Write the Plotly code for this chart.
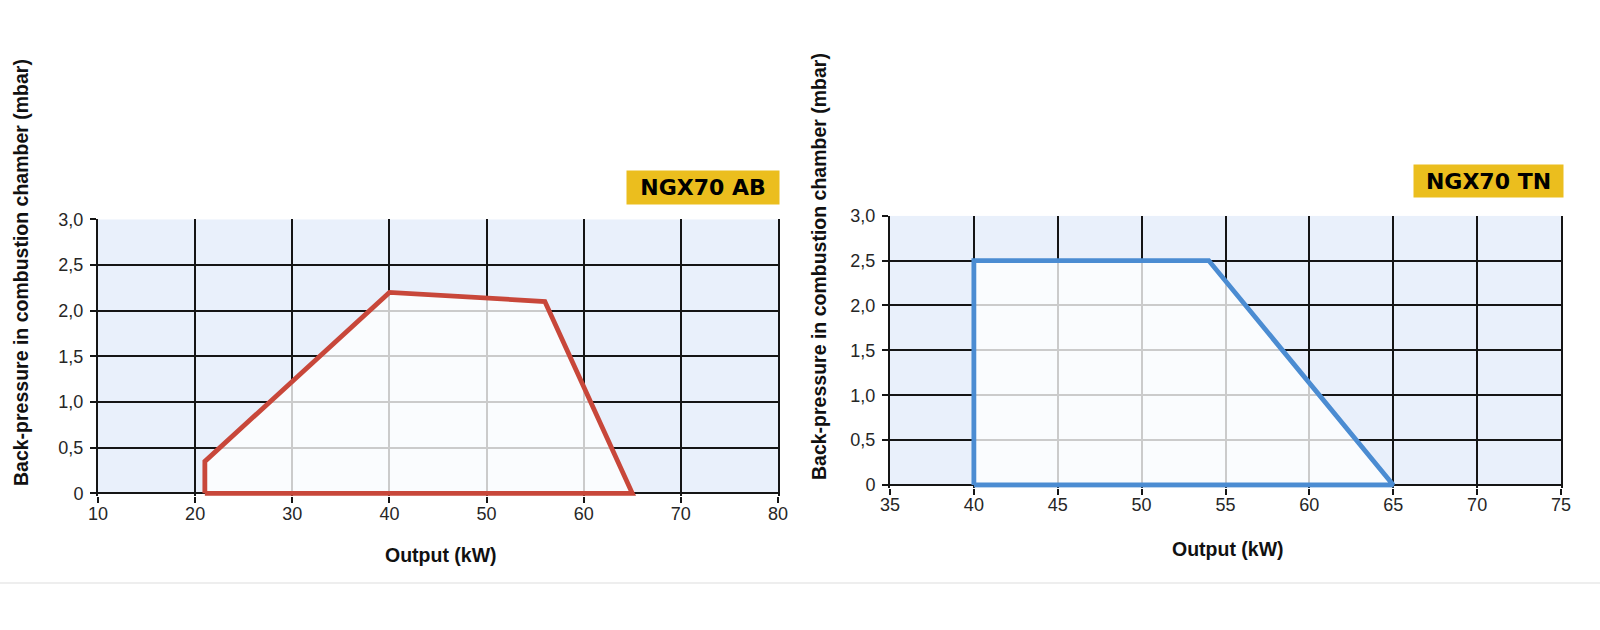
import plotly.graph_objects as go

# ---- data ----
ab_output = [21, 21, 40, 56, 65, 21]
ab_pressure = [0, 0.35, 2.2, 2.1, 0, 0]
tn_output = [40, 40, 54, 65, 40]
tn_pressure = [0, 2.5, 2.5, 0, 0]

ab_xticks = [10, 20, 30, 40, 50, 60, 70, 80]
tn_xticks = [35, 40, 45, 50, 55, 60, 65, 70, 75]
y_tickvals = [0, 0.5, 1.0, 1.5, 2.0, 2.5, 3.0]
y_ticktext = ["0", "0,5", "1,0", "1,5", "2,0", "2,5", "3,0"]

ab_label = "NGX70 AB"
tn_label = "NGX70 TN"
x_title = "Output (kW)"
y_title = "Back-pressure in combustion chamber (mbar)"

FONT = "Liberation Sans, Arial, sans-serif"
BADGE_FONT = "DejaVu Sans, Liberation Sans, sans-serif"
BG_BLUE = "rgb(233,240,251)"
GRID = "#151515"
RED = "#C8473A"
BLUE = "#4B8CD2"
BADGE = "#EBBE1E"

fig = go.Figure()

fig.add_trace(go.Scatter(
    x=ab_output, y=ab_pressure, mode="lines", fill="toself",
    fillcolor="rgba(255,255,255,0.78)",
    line=dict(color=RED, width=4.8), xaxis="x", yaxis="y",
    showlegend=False, hoverinfo="skip"))
fig.add_trace(go.Scatter(
    x=tn_output, y=tn_pressure, mode="lines", fill="toself",
    fillcolor="rgba(255,255,255,0.78)",
    line=dict(color=BLUE, width=4.8), xaxis="x2", yaxis="y2",
    showlegend=False, hoverinfo="skip"))

ymin = -0.03
tickfont = dict(family=FONT, size=18, color="#262626")
common_x = dict(showgrid=True, gridcolor=GRID, gridwidth=2, zeroline=False,
                ticks="outside", ticklen=6, tickwidth=2, tickcolor=GRID,
                showline=False, layer="below traces", automargin=False,
                ticklabelstandoff=-5, tickfont=tickfont)
common_y = dict(showgrid=True, gridcolor=GRID, gridwidth=2, zeroline=False,
                ticks="outside", ticklen=6, tickwidth=2, tickcolor=GRID,
                showline=True, mirror=True, linecolor=GRID, linewidth=2,
                layer="below traces", range=[ymin, 3], automargin=False,
                tickvals=y_tickvals, ticktext=y_ticktext,
                ticklabelstandoff=3, tickfont=tickfont)

fig.update_layout(
    width=1600, height=630,
    margin=dict(l=0, r=0, t=0, b=0, autoexpand=False),
    paper_bgcolor="white", plot_bgcolor="white",
    xaxis=dict(domain=[98/1600, 778/1600], range=[min(ab_xticks), max(ab_xticks)],
               tickvals=ab_xticks, anchor="y", **common_x),
    yaxis=dict(domain=[1-496.1/630, 1-219.3/630], anchor="x", **common_y),
    xaxis2=dict(domain=[890/1600, 1561/1600], range=[min(tn_xticks), max(tn_xticks)],
                tickvals=tn_xticks, anchor="y2", **common_x),
    yaxis2=dict(domain=[1-487.7/630, 1-215.7/630], anchor="x2", **common_y),
)

# blue backgrounds of the grids
fig.add_shape(type="rect", xref="x", yref="y", x0=min(ab_xticks), x1=max(ab_xticks),
              y0=0, y1=max(y_tickvals), fillcolor=BG_BLUE, line_width=0, layer="below")
fig.add_shape(type="rect", xref="x2", yref="y2", x0=min(tn_xticks), x1=max(tn_xticks),
              y0=0, y1=max(y_tickvals), fillcolor=BG_BLUE, line_width=0, layer="below")

# faint separator line at bottom
fig.add_shape(type="line", xref="paper", yref="paper", x0=0, x1=1,
              y0=1-583/630, y1=1-583/630, line=dict(color="#eeeeee", width=2))

ann_font_title = dict(family=FONT, size=19.5, color="#111")
annotations = [
    dict(text=f"<b>{x_title}</b>", x=441/1600, y=1-555/630, xref="paper", yref="paper",
         showarrow=False, font=ann_font_title, xanchor="center", yanchor="middle"),
    dict(text=f"<b>{x_title}</b>", x=1228/1600, y=1-549/630, xref="paper", yref="paper",
         showarrow=False, font=ann_font_title, xanchor="center", yanchor="middle"),
    dict(text=f"<b>{y_title}</b>", x=21/1600, y=1-273/630, xref="paper", yref="paper",
         showarrow=False, font=ann_font_title, textangle=-90, xanchor="center", yanchor="middle"),
    dict(text=f"<b>{y_title}</b>", x=819/1600, y=1-267/630, xref="paper", yref="paper",
         showarrow=False, font=ann_font_title, textangle=-90, xanchor="center", yanchor="middle"),
    dict(text=f"<b>{ab_label}</b>", x=703/1600, y=1-187.5/630, xref="paper", yref="paper",
         showarrow=False, font=dict(family=BADGE_FONT, size=22, color="black"),
         bgcolor=BADGE, width=152, height=33, borderpad=0,
         xanchor="center", yanchor="middle"),
    dict(text=f"<b>{tn_label}</b>", x=1488.5/1600, y=1-180.7/630, xref="paper", yref="paper",
         showarrow=False, font=dict(family=BADGE_FONT, size=22, color="black"),
         bgcolor=BADGE, width=149, height=32, borderpad=0,
         xanchor="center", yanchor="middle"),
]
fig.update_layout(annotations=annotations)

fig.write_html("out.html")
